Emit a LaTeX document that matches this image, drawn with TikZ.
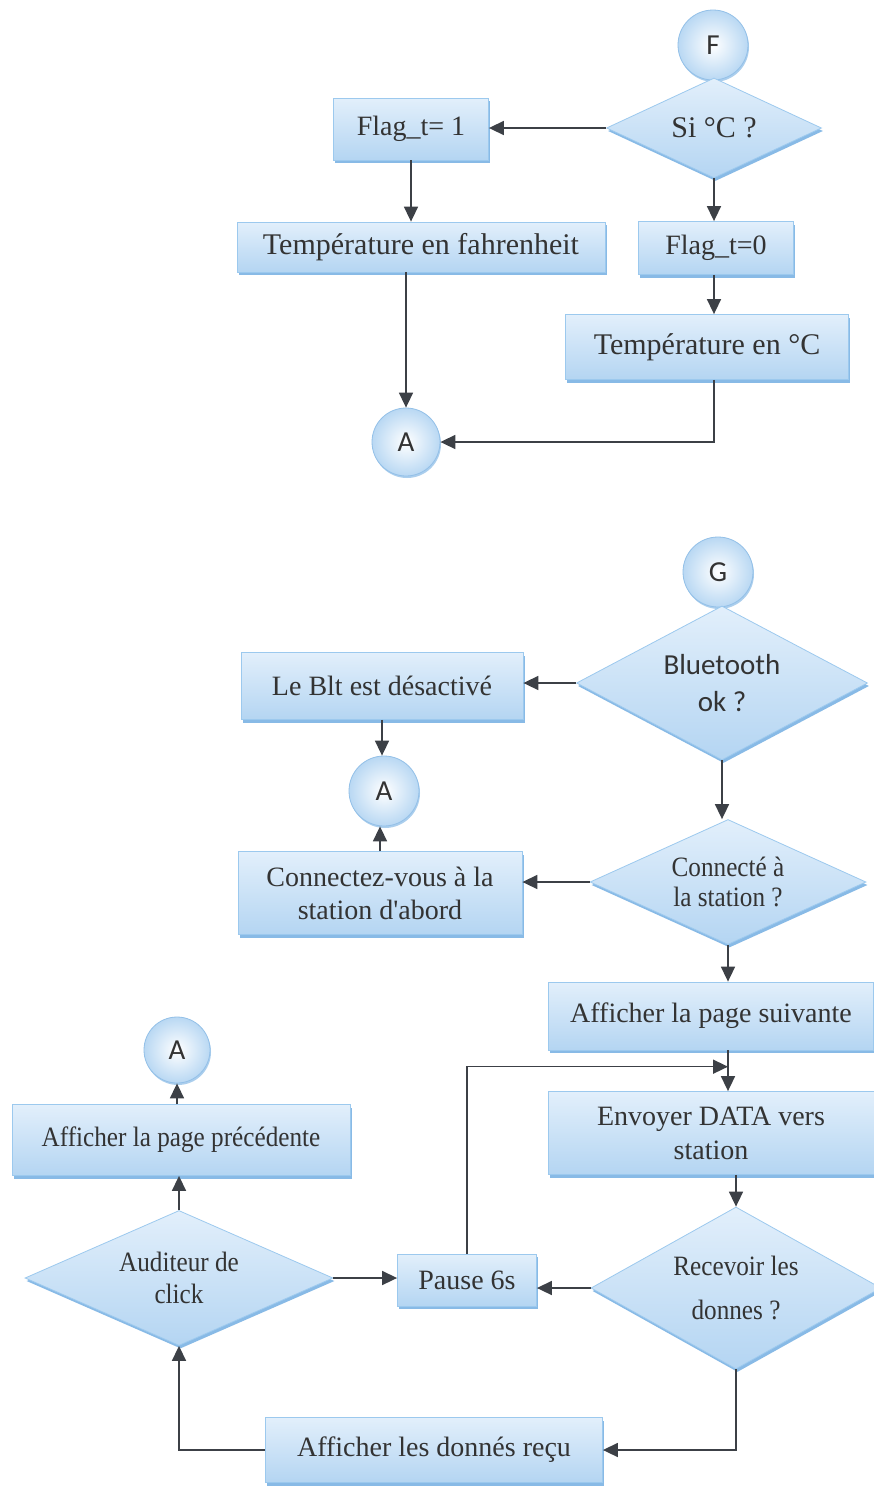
\documentclass[tikz,border=0pt]{standalone}
\usepackage{fontspec}
\setmainfont{Liberation Serif}
\newfontfamily\plainserif{Liberation Serif}
\newfontfamily\narrowserif[FakeStretch=0.9]{Liberation Serif}
\newfontfamily\labelsans{Carlito}
\usetikzlibrary{shapes.geometric,shadows,calc,arrows.meta}

\definecolor{ink}{HTML}{333333}
\definecolor{wire}{HTML}{3C4046}
\definecolor{boxtop}{HTML}{E2EFFB}
\definecolor{boxbot}{HTML}{B4D5F2}
\definecolor{boxedge}{HTML}{9CC9EE}
\definecolor{shade}{HTML}{88BAE6}
\definecolor{ballout}{HTML}{B9D8F3}
\definecolor{balledge}{HTML}{93C0E8}

\begin{document}
\begin{tikzpicture}[x=1pt,y=-1pt,
  every node/.style={text=ink},
  proc/.style={rectangle, inner sep=0pt, align=center,
    top color=boxtop, bottom color=boxbot, draw=boxedge, line width=0.8pt,
    drop shadow={shadow xshift=1.5pt, shadow yshift=-3pt, fill=shade, opacity=1},
    font=\fontsize{28}{34}\selectfont},
  decide/.style={diamond, inner sep=0pt, align=center,
    top color=boxtop, bottom color=boxbot, draw=boxedge, line width=0.8pt,
    drop shadow={shadow xshift=1.5pt, shadow yshift=-3pt, fill=shade, opacity=1},
    font=\fontsize{28}{34}\selectfont},
  joint/.style={circle, inner sep=0pt, minimum size=70pt,
    inner color=white, outer color=ballout, draw=balledge, line width=0.8pt,
    drop shadow={shadow xshift=1pt, shadow yshift=-2pt, fill=shade, opacity=0.7},
    font=\labelsans\fontsize{29}{32}\selectfont},
  arr/.style={-{Triangle[length=15pt,width=14pt]}, draw=wire, line width=1.6pt},
]
\useasboundingbox (0,0) rectangle (874,1486);
\clip (0,0) rectangle (874,1486);
\fill[white] (0,0) rectangle (874,1486);

% ---------- temperature unit selection ----------
\node[joint] (F) at (713,45) {F};
\node[decide, minimum width=215pt, minimum height=100pt, aspect=2.15,
      font=\fontsize{30}{34}\selectfont] (si) at (714,128) {Si °C ?};
\node[proc, minimum width=155pt, minimum height=62pt] (flag1) at (411,129) {Flag\_t= 1};
\node[proc, minimum width=368pt, minimum height=50pt,
      font=\fontsize{30}{34}\selectfont] (fahr) at (421,247) {Température en fahrenheit};
\node[proc, minimum width=155pt, minimum height=53pt] (flag0) at (716,248) {Flag\_t=0};
\node[proc, minimum width=283pt, minimum height=65pt,
      font=\fontsize{30}{34}\selectfont] (tempC) at (707,347) {Température en °C};
\node[joint, minimum size=68pt] (A1) at (406,442) {A};

\draw[arr] (si.west) -- (si.west -| flag1.east);
\draw[arr] (flag1.south) -- (flag1.south |- fahr.north);
\draw[arr] (si.south) -- (si.south |- flag0.north);
\draw[arr] (flag0.south -| si.south) -- (si.south |- tempC.north);
\draw[arr] (A1.north |- fahr.south) -- (A1.north);
\draw[arr] (tempC.south -| si.south) |- (A1.east);

% ---------- bluetooth link and data exchange ----------
\node[joint] (G) at (718,572) {G};
\node[decide, minimum width=291pt, minimum height=154pt, aspect=1.89,
      font=\labelsans\fontsize{29}{37}\selectfont] (bt) at (722,683) {Bluetooth\\ok ?};
\node[proc, minimum width=282pt, minimum height=67pt] (blt) at (382,686) {Le Blt est désactivé};
\node[joint] (A2) at (384,791) {A};
\node[proc, minimum width=284pt, minimum height=83pt,
      font=\fontsize{28}{33}\selectfont] (conn) at (380,893) {Connectez-vous à la\\station d{\plainserif '}abord};
\node[decide, minimum width=276pt, minimum height=125pt, aspect=2.2,
      font=\narrowserif\fontsize{28}{30}\selectfont] (sta) at (728,882) {Connecté à\\la station ?};
\node[proc, minimum width=325pt, minimum height=68pt] (suiv) at (711,1016) {Afficher la page suivante};
\node[proc, minimum width=326pt, minimum height=83pt] (env) at (711,1133) {Envoyer DATA vers\\station};
\node[decide, minimum width=290pt, minimum height=162pt, aspect=1.79,
      font=\narrowserif\fontsize{28}{44}\selectfont] (rec) at (736,1288) {Recevoir les\\donnes ?};
\node[proc, minimum width=139pt, minimum height=52pt] (pause) at (467,1280) {Pause 6s};
\node[decide, minimum width=308pt, minimum height=135pt, aspect=2.28,
      font=\narrowserif\fontsize{28}{32}\selectfont] (aud) at (179,1278) {Auditeur de\\click};
\node[proc, minimum width=338pt, minimum height=71pt,
      font=\narrowserif\fontsize{28}{34}\selectfont] (prec) at (181,1140) {Afficher la page précédente};
\node[joint, minimum size=66pt] (A3) at (177,1050) {A};
\node[proc, minimum width=337pt, minimum height=65pt] (recu) at (434,1450) {Afficher les donnés reçu};

\coordinate (loop) at ($(suiv.south -| sta.south)!0.4!(sta.south |- env.north)$);

\draw[arr] (bt.west) -- (bt.west -| blt.east);
\draw[arr] (blt.south) -- (blt.south |- A2.north);
\draw[arr] (conn.north) -- (conn.north |- A2.south);
\draw[arr] (bt.south) -- (bt.south |- sta.north);
\draw[arr] (sta.west) -- (sta.west -| conn.east);
\draw[arr] (sta.south) -- (sta.south |- suiv.north);
\draw[arr] (suiv.south -| sta.south) -- (sta.south |- env.north);
\draw[arr] (env.south -| rec.north) -- (rec.north);
\draw[arr] (rec.west) -- (rec.west -| pause.east);
\draw[arr] (pause.north) |- (loop);
\draw[arr] (aud.east) -- (aud.east -| pause.west);
\draw[arr] (aud.north) -- (aud.north |- prec.south);
\draw[arr] (prec.north -| A3.south) -- (A3.south);
\draw[arr] (rec.south) |- (recu.east);
\draw[arr] (recu.west) -| (aud.south);
\end{tikzpicture}
\end{document}
